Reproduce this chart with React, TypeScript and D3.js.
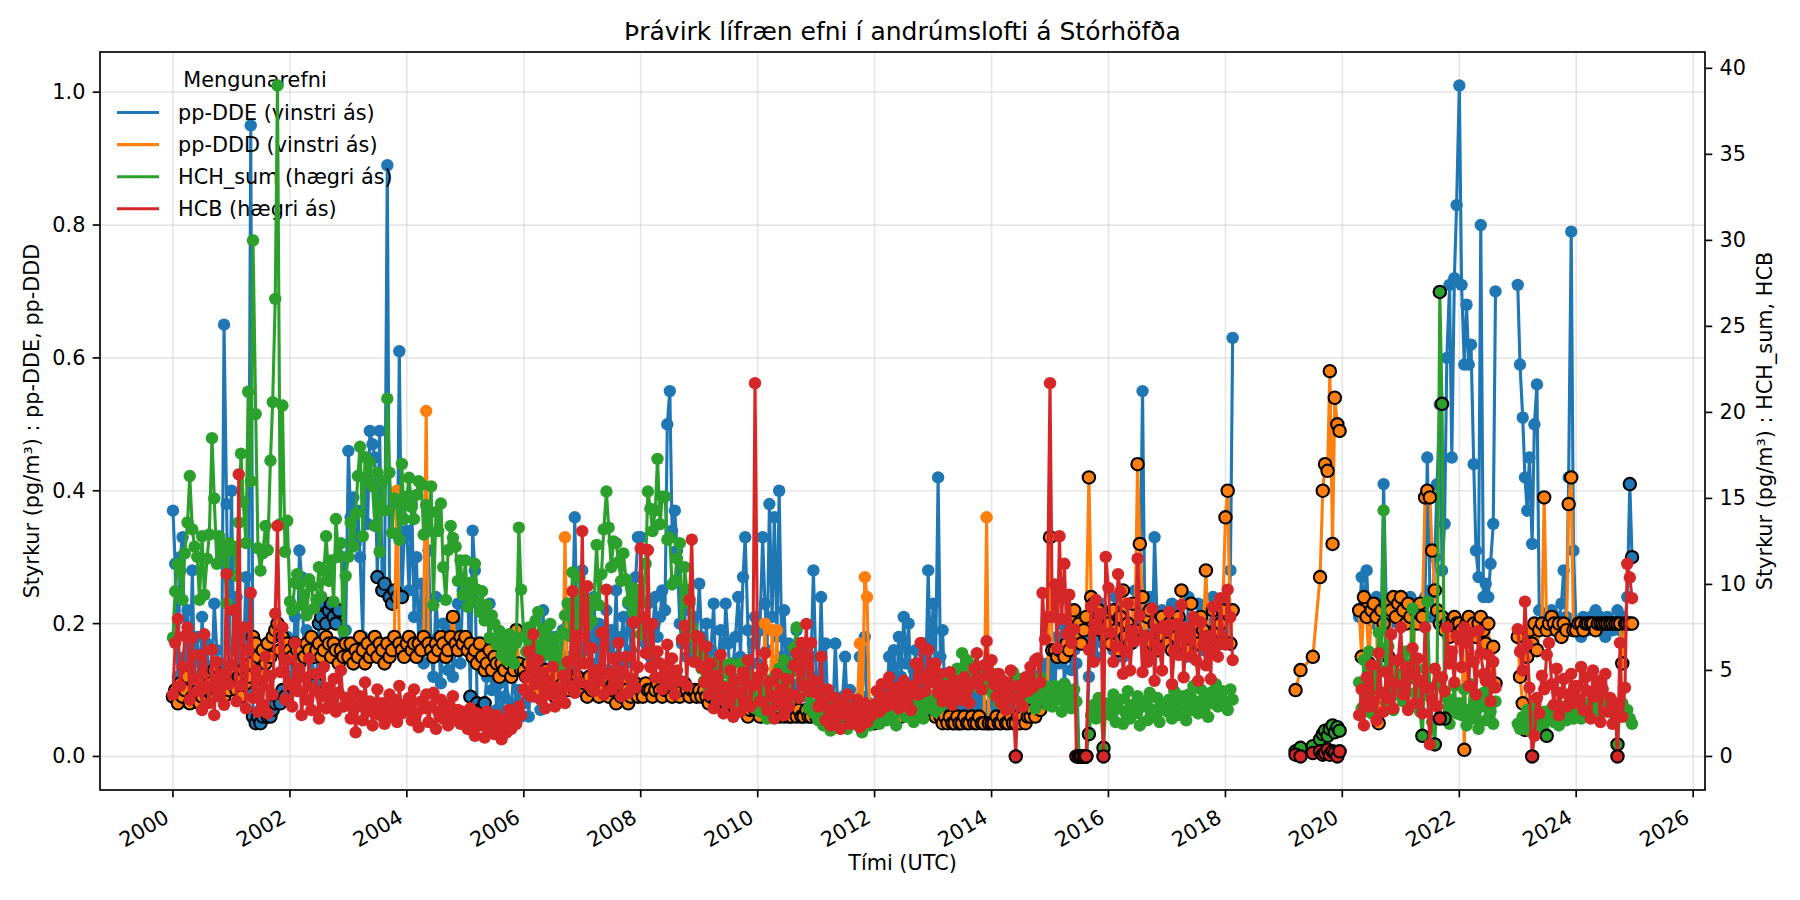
import React from "react";
import * as d3 from "d3";

// two samples a month: slot 0 = 1 Jan, slot 1 = 15 Jan, slot 2 = 1 Feb, ... slot 23 = 15 Dec
const years = d3.range(2000, 2025);
const _ = null;

// pp-DDE, left axis (pg/m3)
const ddeRows = [
  [0.37, 0.29, 0.12, 0.30, 0.33, 0.15, 0.22, 0.10, 0.28, 0.12, 0.18, 0.09, 0.21, 0.14, 0.17, 0.11, 0.13, 0.23, 0.16, 0.10, 0.14, 0.65, 0.38, 0.12],
  [0.40, 0.16, 0.24, 0.11, 0.19, 0.13, 0.27, 0.10, 0.95, 0.06, 0.05, 0.06, 0.05, 0.06, 0.07, 0.06, 0.06, 0.07, 0.08, 0.09, 0.08, 0.10, 0.09, 0.18],
  [0.17, 0.12, 0.21, 0.14, 0.31, 0.27, 0.15, 0.19, 0.11, 0.16, 0.12, 0.11, 0.20, 0.21, 0.23, 0.20, 0.22, 0.23, 0.21, 0.20, 0.22, 0.16, 0.30, 0.19],
  [0.46, 0.36, 0.39, 0.32, 0.37, 0.30, 0.18, 0.42, 0.35, 0.49, 0.47, 0.45, 0.27, 0.49, 0.25, 0.26, 0.89, 0.24, 0.23, 0.25, 0.24, 0.61, 0.24, 0.33],
  [0.34, 0.25, 0.38, 0.21, 0.30, 0.17, 0.26, 0.14, 0.22, 0.31, 0.16, 0.12, 0.24, 0.18, 0.11, 0.20, 0.15, 0.13, 0.19, 0.12, 0.17, 0.23, 0.14, 0.25],
  [0.23, 0.26, 0.09, 0.34, 0.28, 0.08, 0.07, 0.07, 0.08, 0.12, 0.23, 0.10, 0.14, 0.07, 0.11, 0.06, 0.09, 0.12, 0.05, 0.08, 0.13, 0.07, 0.10, 0.06],
  [0.08, 0.12, 0.06, 0.14, 0.09, 0.11, 0.15, 0.07, 0.22, 0.13, 0.10, 0.16, 0.12, 0.18, 0.09, 0.14, 0.19, 0.11, 0.15, 0.13, 0.21, 0.36, 0.17, 0.12],
  [0.28, 0.16, 0.21, 0.12, 0.18, 0.24, 0.14, 0.20, 0.11, 0.17, 0.22, 0.13, 0.19, 0.15, 0.25, 0.12, 0.18, 0.21, 0.14, 0.23, 0.16, 0.20, 0.27, 0.33],
  [0.33, 0.20, 0.17, 0.23, 0.15, 0.19, 0.24, 0.18, 0.21, 0.25, 0.22, 0.50, 0.55, 0.34, 0.37, 0.31, 0.20, 0.17, 0.22, 0.15, 0.19, 0.16, 0.21, 0.18],
  [0.26, 0.18, 0.14, 0.20, 0.12, 0.16, 0.23, 0.11, 0.15, 0.19, 0.13, 0.23, 0.17, 0.10, 0.14, 0.18, 0.24, 0.15, 0.27, 0.33, 0.19, 0.12, 0.17, 0.21],
  [0.14, 0.19, 0.33, 0.23, 0.16, 0.38, 0.21, 0.36, 0.18, 0.40, 0.15, 0.22, 0.12, 0.17, 0.10, 0.14, 0.19, 0.11, 0.13, 0.16, 0.09, 0.12, 0.15, 0.28],
  [0.12, 0.08, 0.24, 0.10, 0.17, 0.07, 0.09, 0.06, 0.17, 0.08, 0.06, 0.09, 0.15, 0.07, 0.10, 0.06, 0.08, 0.07, 0.15, 0.09, 0.18, 0.06, 0.08, 0.05],
  [0.05, 0.07, 0.09, 0.06, 0.10, 0.08, 0.15, 0.11, 0.16, 0.09, 0.18, 0.12, 0.21, 0.14, 0.20, 0.10, 0.13, 0.16, 0.09, 0.12, 0.17, 0.11, 0.28, 0.14],
  [0.23, 0.12, 0.42, 0.15, 0.19, 0.09, 0.11, 0.07, 0.10, 0.08, 0.05, 0.05, 0.07, 0.09, 0.06, 0.08, 0.10, 0.07, 0.09, 0.06, 0.08, 0.07, 0.05, 0.05],
  [0.06, 0.08, 0.07, 0.09, 0.06, 0.10, 0.08, 0.07, 0.09, 0.11, 0.07, 0.08, 0.10, 0.06, 0.09, 0.08, 0.11, 0.07, 0.10, 0.12, 0.09, 0.13, 0.11, 0.14],
  [0.12, 0.16, 0.10, 0.18, 0.14, 0.20, 0.11, 0.15, 0.17, 0.13, 0.16, 0.14, 0.00, 0.00, 0.00, 0.00, 0.12, 0.18, 0.21, 0.15, 0.19, 0.23, 0.17, 0.20],
  [0.18, 0.22, 0.16, 0.24, 0.19, 0.21, 0.15, 0.23, 0.18, 0.20, 0.17, 0.25, 0.19, 0.22, 0.55, 0.21, 0.18, 0.24, 0.16, 0.33, 0.20, 0.17, 0.22, 0.19],
  [0.21, 0.17, 0.23, 0.19, 0.16, 0.22, 0.18, 0.20, 0.15, 0.24, 0.19, 0.21, 0.17, 0.23, 0.18, 0.16, 0.22, 0.20, 0.19, 0.24, 0.17, 0.21, 0.23, 0.18],
  [0.22, 0.17, 0.28, 0.63],
  [],
  [_, _, _, _, _, _, _, 0.21, 0.27, 0.22, 0.28, 0.21, 0.23, 0.20, 0.24, 0.22, 0.21, 0.41, 0.23, 0.20, 0.22, 0.21, 0.23, 0.20],
  [0.22, 0.20, 0.23, 0.21, 0.24, 0.20, 0.22, 0.21, 0.23, 0.22, 0.24, 0.45, 0.25, 0.21, 0.30, 0.41, 0.53, 0.28, 0.35, 0.60, 0.71, 0.45, 0.72, 0.83],
  [1.01, 0.71, 0.59, 0.68, 0.59, 0.62, 0.44, 0.31, 0.27, 0.80, 0.24, 0.26, 0.24, 0.29, 0.35, 0.70],
  [0.71, 0.59, 0.51, 0.42, 0.37, 0.45, 0.32, 0.50, 0.56, 0.22, 0.20, 0.19, 0.21, 0.20, 0.22, 0.19, 0.21, 0.20, 0.23, 0.28, 0.21, 0.42, 0.79, 0.31],
  [0.19, 0.20, 0.18, 0.21, 0.20, 0.19, 0.21, 0.20, 0.22, 0.19, 0.21, 0.20, 0.18, 0.21, 0.20, 0.19, 0.20, 0.22, 0.19, 0.21, 0.20, 0.24, 0.41, 0.30],
];

// pp-DDD, left axis (pg/m3)
const dddRows = [
  [0.09, 0.10, 0.08, 0.11, 0.09, 0.10, 0.12, 0.08, 0.09, 0.11, 0.10, 0.08, 0.09, 0.12, 0.10, 0.11, 0.09, 0.13, 0.10, 0.12, 0.11, 0.09, 0.12, 0.10],
  [0.11, 0.13, 0.10, 0.12, 0.09, 0.13, 0.11, 0.12, 0.14, 0.18, 0.17, 0.15, 0.13, 0.16, 0.14, 0.17, 0.15, 0.18, 0.19, 0.20, 0.16, 0.18, 0.15, 0.17],
  [0.16, 0.15, 0.17, 0.16, 0.14, 0.16, 0.15, 0.17, 0.16, 0.18, 0.15, 0.16, 0.17, 0.15, 0.16, 0.18, 0.17, 0.15, 0.17, 0.16, 0.14, 0.16, 0.15, 0.17],
  [0.15, 0.17, 0.14, 0.16, 0.15, 0.18, 0.16, 0.14, 0.17, 0.15, 0.16, 0.18, 0.15, 0.17, 0.16, 0.14, 0.17, 0.15, 0.16, 0.18, 0.40, 0.17, 0.16, 0.15],
  [0.17, 0.18, 0.16, 0.17, 0.15, 0.17, 0.16, 0.18, 0.52, 0.17, 0.16, 0.15, 0.17, 0.16, 0.18, 0.17, 0.15, 0.16, 0.18, 0.21, 0.17, 0.16, 0.18, 0.17],
  [0.18, 0.16, 0.17, 0.15, 0.16, 0.14, 0.17, 0.15, 0.13, 0.14, 0.16, 0.13, 0.15, 0.14, 0.12, 0.14, 0.13, 0.15, 0.14, 0.12, 0.13, 0.19, 0.14, 0.13],
  [0.13, 0.12, 0.14, 0.11, 0.13, 0.12, 0.10, 0.12, 0.11, 0.13, 0.10, 0.12, 0.11, 0.09, 0.12, 0.10, 0.11, 0.33, 0.10, 0.12, 0.11, 0.10, 0.12, 0.11],
  [0.10, 0.11, 0.09, 0.12, 0.10, 0.11, 0.10, 0.09, 0.11, 0.10, 0.12, 0.09, 0.10, 0.11, 0.08, 0.10, 0.09, 0.11, 0.10, 0.08, 0.09, 0.10, 0.11, 0.09],
  [0.10, 0.09, 0.11, 0.10, 0.10, 0.09, 0.10, 0.11, 0.10, 0.09, 0.10, 0.10, 0.11, 0.09, 0.10, 0.10, 0.09, 0.10, 0.11, 0.10, 0.09, 0.10, 0.10, 0.09],
  [0.10, 0.09, 0.10, 0.09, 0.08, 0.09, 0.10, 0.08, 0.09, 0.08, 0.09, 0.08, 0.07, 0.08, 0.09, 0.07, 0.08, 0.07, 0.08, 0.07, 0.06, 0.07, 0.08, 0.07],
  [0.07, 0.06, 0.07, 0.20, 0.07, 0.06, 0.19, 0.07, 0.19, 0.06, 0.07, 0.06, 0.07, 0.06, 0.06, 0.07, 0.06, 0.07, 0.06, 0.06, 0.07, 0.06, 0.06, 0.07],
  [0.06, 0.07, 0.06, 0.06, 0.07, 0.06, 0.06, 0.07, 0.06, 0.06, 0.07, 0.06, 0.06, 0.06, 0.07, 0.06, 0.06, 0.07, 0.17, 0.06, 0.27, 0.24, 0.07, 0.06],
  [0.06, 0.07, 0.06, 0.07, 0.08, 0.07, 0.06, 0.07, 0.08, 0.07, 0.07, 0.06, 0.07, 0.08, 0.07, 0.07, 0.06, 0.07, 0.08, 0.07, 0.07, 0.08, 0.07, 0.07],
  [0.07, 0.06, 0.07, 0.06, 0.05, 0.06, 0.05, 0.06, 0.05, 0.05, 0.06, 0.05, 0.05, 0.06, 0.05, 0.05, 0.06, 0.05, 0.05, 0.06, 0.05, 0.05, 0.36, 0.05],
  [0.05, 0.05, 0.06, 0.05, 0.05, 0.06, 0.05, 0.05, 0.06, 0.05, 0.05, 0.06, 0.05, 0.06, 0.05, 0.06, 0.06, 0.07, 0.06, 0.08, 0.07, 0.09, 0.10, 0.08],
  [0.33, 0.16, 0.16, 0.15, 0.16, 0.16, 0.15, 0.17, 0.16, 0.19, 0.22, 0.18, 0.20, 0.17, 0.19, 0.21, 0.42, 0.24, 0.23, 0.20, 0.22, 0.19, 0.21, 0.18],
  [0.20, 0.17, 0.22, 0.19, 0.16, 0.21, 0.25, 0.18, 0.20, 0.17, 0.23, 0.19, 0.44, 0.32, 0.24, 0.18, 0.21, 0.22, 0.17, 0.20, 0.16, 0.19, 0.21, 0.18],
  [0.17, 0.20, 0.16, 0.19, 0.18, 0.21, 0.25, 0.17, 0.19, 0.16, 0.23, 0.18, 0.20, 0.17, 0.21, 0.19, 0.28, 0.18, 0.16, 0.22, 0.19, 0.17, 0.20, 0.22],
  [0.36, 0.40, 0.17, 0.22],
  [_, _, _, _, _, 0.10, _, 0.13, _, _, _, _, 0.15, _, _, 0.27, 0.40, 0.44, 0.43, 0.58, 0.32, 0.54, 0.50, 0.49],
  [_, _, _, _, _, _, _, 0.22, 0.15, 0.24, 0.21, 0.14, 0.22, 0.23, 0.21, 0.05, 0.22, 0.20, 0.23, 0.15, 0.22, 0.24, 0.21, 0.23],
  [0.24, 0.22, 0.20, 0.23, 0.21, 0.12, 0.22, 0.20, 0.23, 0.21, 0.39, 0.40, 0.39, 0.31, 0.25, 0.22, 0.20, 0.21, 0.19, 0.20, 0.18, 0.20, 0.21, 0.20],
  [0.20, 0.19, 0.01, 0.20, 0.21, 0.19, 0.20, 0.18, 0.20, 0.21, 0.19, 0.17, 0.20, 0.105, 0.165, 0.11],
  [0.18, 0.12, 0.08, 0.04, 0.15, 0.19, 0.17, 0.20, 0.16, 0.19, 0.20, 0.39, 0.19, 0.20, 0.21, 0.20, 0.19, 0.20, 0.18, 0.20, 0.19, 0.38, 0.42, 0.19],
  [0.19, 0.20, 0.20, 0.19, 0.20, 0.20, 0.20, 0.20, 0.19, 0.20, 0.20, 0.20, 0.20, 0.20, 0.20, 0.20, 0.20, 0.20, 0.20, 0.14, 0.20, 0.20, 0.20, 0.20],
];

// HCH_sum, right axis (pg/m3)
const hchRows = [
  [6.9, 9.6, 11.2, 10.8, 9.1, 11.8, 13.6, 16.3, 13.2, 12.2, 11.6, 9.1, 12.8, 9.4, 11.5, 12.9, 18.5, 15.0, 11.2, 12.8, 11.8, 12.2, 8.9, 12.4],
  [12.0, 12.2, 10.5, 13.6, 17.6, 14.8, 12.4, 21.2, 16.0, 30.0, 19.9, 12.1, 10.8, 11.8, 13.4, 12.0, 17.2, 20.6, 26.6, 39.0, 13.5, 20.4, 11.9, 13.7],
  [9.0, 8.5, 10.1, 10.6, 10.0, 8.8, 9.4, 8.2, 10.3, 9.9, 8.6, 9.1, 11.0, 9.3, 10.8, 12.8, 10.2, 11.4, 9.0, 13.8, 11.6, 12.4, 7.3, 10.5],
  [11.6, 13.6, 12.2, 14.1, 16.3, 18.0, 12.8, 17.4, 16.1, 17.1, 15.7, 13.4, 16.5, 11.9, 16.0, 14.3, 20.8, 16.5, 13.0, 15.0, 14.7, 12.6, 17.0, 13.8],
  [15.1, 16.2, 14.5, 13.8, 15.2, 16.0, 15.8, 12.9, 14.6, 13.1, 15.7, 8.8, 14.2, 13.1, 14.7, 11.0, 9.1, 12.0, 13.4, 12.7, 12.2, 10.2, 11.4, 9.4],
  [11.4, 8.7, 10.1, 9.0, 11.2, 9.7, 8.4, 9.6, 7.9, 8.8, 6.9, 8.2, 7.7, 6.5, 7.3, 5.9, 6.8, 5.6, 7.1, 6.2, 5.4, 6.6, 13.3, 9.7],
  [7.0, 6.1, 7.5, 5.8, 6.6, 7.9, 8.4, 6.3, 7.4, 5.9, 6.8, 7.7, 6.2, 5.7, 6.9, 5.2, 7.2, 8.2, 8.9, 7.0, 10.7, 9.5, 5.7, 10.4],
  [8.1, 9.3, 7.6, 8.7, 7.9, 9.1, 12.3, 8.8, 10.6, 13.2, 15.4, 13.3, 11.0, 12.5, 12.4, 11.3, 10.2, 11.8, 10.3, 9.0, 9.8, 8.4, 9.7, 8.9],
  [7.1, 9.0, 11.2, 15.4, 14.4, 13.1, 14.3, 17.3, 13.5, 15.1, 15.1, 12.6, 12.7, 10.0, 10.2, 11.5, 12.4, 6.8, 11.0, 9.7, 8.9, 7.5, 6.9, 6.2],
  [6.0, 5.1, 4.4, 5.6, 3.8, 4.9, 5.4, 3.5, 4.6, 5.4, 4.1, 3.2, 4.8, 5.4, 3.9, 4.5, 3.1, 5.4, 4.2, 3.6, 4.7, 3.3, 4.0, 2.8],
  [3.4, 2.6, 4.1, 3.0, 2.2, 3.7, 4.5, 2.9, 3.3, 5.1, 3.8, 5.6, 4.2, 3.1, 4.9, 6.3, 7.5, 5.0, 4.4, 5.4, 3.6, 2.8, 3.9, 2.5],
  [2.9, 2.1, 3.3, 1.8, 2.6, 2.2, 1.5, 2.8, 3.1, 2.0, 1.7, 2.4, 2.9, 1.6, 2.3, 2.7, 1.9, 3.2, 2.5, 1.4, 2.1, 2.8, 1.8, 2.4],
  [2.2, 3.0, 1.9, 2.6, 3.4, 2.1, 2.8, 3.6, 2.4, 1.8, 3.1, 2.7, 3.9, 2.3, 3.3, 2.9, 2.0, 3.5, 2.6, 3.0, 2.2, 3.7, 2.8, 3.3],
  [3.1, 2.6, 3.8, 2.9, 3.5, 4.2, 3.3, 4.6, 3.9, 4.4, 5.1, 4.0, 6.0, 4.8, 5.6, 4.5, 5.3, 4.1, 4.7, 5.0, 5.2, 4.3, 3.9, 4.6],
  [4.2, 3.6, 4.8, 3.1, 4.4, 3.9, 2.7, 4.1, 3.5, 4.9, 3.2, 3.8, 4.5, 2.9, 3.7, 4.3, 3.4, 4.0, 2.8, 3.6, 4.6, 3.3, 4.1, 3.0],
  [3.5, 2.9, 4.1, 3.3, 3.8, 2.6, 4.2, 3.1, 3.6, 2.8, 3.9, 3.2, 0.0, 0.0, 0.0, 0.0, 1.3, 2.4, 3.0, 2.2, 3.4, 2.7, 0.5, 2.9],
  [3.1, 2.4, 3.6, 2.0, 2.8, 3.3, 1.9, 2.6, 3.8, 2.2, 3.0, 2.5, 3.5, 1.8, 2.9, 3.2, 2.1, 3.7, 2.7, 2.3, 3.4, 2.0, 2.8, 3.1],
  [2.6, 3.3, 2.2, 3.8, 2.9, 2.4, 3.5, 3.0, 2.1, 3.6, 2.7, 4.1, 3.2, 2.5, 3.9, 2.8, 3.4, 2.3, 3.7, 3.1, 4.2, 2.9, 3.5, 3.8],
  [3.2, 2.7, 3.9, 3.3],
  [_, _, _, _, _, 0.3, _, 0.5, _, _, _, _, 0.6, _, _, 1.0, 1.3, 1.5, 1.2, 1.6, 1.8, 1.4, 1.7, 1.5],
  [_, _, _, _, _, _, _, 4.3, 2.8, 5.6, 3.4, 6.1, 2.5, 4.7, 3.9, 7.2, 5.0, 14.3, 3.1, 6.4, 4.0, 2.7, 5.5, 3.6],
  [4.8, 3.2, 6.1, 2.9, 5.4, 8.6, 3.7, 4.4, 2.6, 1.2, 5.1, 9.0, 3.5, 2.0, 0.7, 4.2, 27.0, 20.5, 2.2, 3.4, 1.9, 2.8, 4.1, 2.5],
  [3.1, 2.4, 3.9, 1.8, 2.7, 4.2, 2.2, 3.4, 1.6, 2.9, 3.7, 2.1, 4.5, 2.6, 1.9, 3.2],
  [1.9, 1.6, 2.3, 1.8, 2.7, 1.5, 2.1, 2.9, 1.7, 2.4, 1.9, 2.6, 1.2, 2.2, 2.8, 2.0, 2.5, 1.8, 2.3, 2.9, 2.1, 2.6, 2.4, 2.2],
  [2.4, 2.8, 2.2, 3.1, 2.6, 2.9, 2.3, 3.3, 2.7, 3.0, 2.5, 3.4, 2.8, 3.2, 2.6, 3.0, 2.4, 0.7, 2.9, 3.1, 2.5, 2.7, 2.2, 1.9],
];

// HCB, right axis (pg/m3)
const hcbRows = [
  [3.6, 6.6, 8.0, 4.1, 5.2, 7.0, 7.5, 3.3, 6.9, 4.5, 3.8, 5.9, 2.7, 7.1, 4.0, 3.1, 6.2, 2.4, 5.5, 3.5, 4.8, 3.0, 10.6, 4.2],
  [5.3, 8.5, 3.2, 16.4, 4.1, 7.5, 2.8, 6.2, 9.5, 3.4, 5.0, 2.6, 4.4, 3.0, 5.8, 2.5, 4.7, 3.6, 8.3, 13.4, 4.9, 7.5, 3.3, 5.6],
  [4.2, 2.9, 6.6, 3.8, 5.1, 2.4, 4.6, 3.3, 5.7, 2.7, 3.9, 4.8, 2.2, 3.5, 5.2, 2.8, 4.0, 3.1, 4.5, 2.6, 3.7, 5.0, 2.9, 3.4],
  [3.0, 2.2, 3.8, 1.4, 2.9, 3.5, 2.1, 4.3, 2.6, 3.2, 1.8, 2.7, 3.9, 2.4, 3.1, 1.9, 2.8, 3.6, 2.3, 3.3, 2.0, 4.1, 2.5, 3.0],
  [2.7, 3.4, 2.1, 3.9, 2.5, 1.7, 3.2, 2.8, 3.6, 2.0, 2.9, 3.7, 1.6, 2.6, 3.3, 2.2, 3.0, 1.8, 2.4, 3.5, 2.1, 2.7, 1.9, 2.6],
  [2.3, 1.6, 2.8, 1.9, 1.2, 2.5, 1.8, 2.2, 1.1, 2.6, 1.5, 2.0, 1.3, 2.4, 1.7, 1.0, 2.1, 1.4, 2.7, 1.6, 2.3, 1.9, 2.9, 2.4],
  [3.9, 4.6, 6.1, 3.5, 7.1, 4.2, 5.6, 3.3, 4.9, 2.8, 4.4, 3.6, 5.2, 2.9, 4.0, 3.4, 4.7, 3.1, 5.5, 4.1, 9.6, 3.7, 7.0, 4.3],
  [13.1, 5.4, 9.9, 4.1, 6.3, 3.8, 5.0, 4.4, 7.2, 3.6, 9.7, 4.8, 3.9, 5.7, 4.2, 6.6, 3.5, 4.9, 5.8, 3.7, 4.5, 7.8, 4.0, 5.2],
  [12.1, 8.1, 6.0, 12.0, 5.2, 7.7, 4.6, 6.1, 5.4, 3.9, 4.8, 6.5, 4.2, 5.7, 3.6, 5.0, 4.4, 6.8, 7.6, 4.1, 9.1, 12.6, 5.5, 7.0],
  [6.9, 5.2, 4.3, 6.4, 3.6, 5.4, 2.8, 4.7, 3.3, 5.9, 2.5, 4.0, 3.1, 5.0, 2.3, 4.4, 3.7, 2.6, 4.9, 3.2, 5.6, 2.9, 4.1, 21.7],
  [4.6, 3.2, 5.1, 6.0, 2.7, 4.3, 3.5, 2.2, 4.8, 3.0, 3.9, 2.4, 4.5, 2.9, 3.6, 5.3, 6.0, 3.4, 6.6, 4.1, 7.7, 3.8, 6.6, 4.4],
  [3.7, 2.9, 5.8, 3.2, 2.1, 3.9, 1.8, 2.7, 3.4, 2.3, 1.6, 3.0, 2.5, 3.6, 1.9, 2.8, 2.2, 3.3, 1.7, 2.6, 3.1, 2.0, 2.9, 2.4],
  [3.0, 3.8, 2.6, 4.2, 3.4, 2.9, 4.6, 3.7, 3.1, 4.0, 2.8, 3.5, 4.4, 3.2, 3.9, 2.7, 4.1, 5.4, 3.6, 6.6, 4.5, 3.8, 6.2, 4.9],
  [4.3, 5.4, 3.7, 4.8, 3.2, 4.1, 3.6, 4.9, 3.0, 4.4, 3.5, 4.0, 3.3, 4.6, 3.8, 3.1, 4.2, 5.1, 6.0, 4.5, 3.9, 5.3, 6.7, 4.7],
  [5.6, 4.2, 3.5, 4.8, 3.1, 4.4, 2.7, 3.9, 5.0, 3.3, 0.0, 4.1, 3.6, 2.9, 4.6, 3.8, 5.2, 4.0, 5.6, 5.7, 4.3, 9.5, 6.8, 8.1],
  [21.7, 8.1, 10.0, 6.3, 12.8, 8.0, 11.2, 7.1, 9.4, 6.6, 7.4, 0.0, 0.0, 0.0, 0.0, 0.0, 6.2, 8.7, 5.5, 9.1, 7.4, 8.3, 0.0, 11.6],
  [9.8, 7.2, 5.5, 6.4, 10.6, 9.6, 4.8, 6.1, 8.9, 5.0, 7.3, 6.7, 11.5, 8.2, 4.9, 7.0, 5.5, 5.8, 8.6, 4.4, 7.4, 6.3, 5.0, 7.6],
  [7.3, 8.4, 4.2, 6.1, 7.7, 5.9, 8.8, 4.6, 6.9, 7.5, 5.8, 8.1, 5.6, 4.4, 7.8, 6.5, 5.3, 7.0, 4.5, 8.7, 6.4, 5.8, 9.2, 6.9],
  [6.5, 9.7, 8.1, 5.6],
  [_, _, _, _, _, 0.1, _, 0.0, _, _, _, _, 0.2, _, _, 0.3, 0.1, 0.2, 0.4, 0.1, 0.3, 0.2, 0.0, 0.3],
  [_, _, _, _, _, _, _, 2.4, 3.9, 1.8, 4.6, 2.9, 5.3, 3.2, 2.1, 6.0, 3.7, 2.6, 4.9, 3.4, 7.1, 2.8, 4.2, 5.6],
  [7.5, 3.6, 5.2, 2.7, 4.8, 6.3, 3.1, 5.7, 4.4, 2.5, 7.5, 4.0, 0.7, 3.3, 5.1, 2.9, 2.2, 4.6, 3.8, 7.5, 5.4, 6.1, 4.3, 7.0],
  [6.8, 5.2, 7.5, 6.6, 4.1, 7.2, 5.5, 3.6, 7.3, 6.0, 4.8, 4.4, 5.9, 3.2, 5.5, 4.0],
  [7.4, 6.1, 5.0, 9.0, 6.5, 4.0, 0.0, 1.2, 3.4, 2.5, 4.7, 3.9, 5.9, 6.6, 4.2, 3.0, 5.1, 2.4, 3.7, 4.5, 2.9, 3.6, 4.8, 3.1],
  [4.1, 3.3, 5.2, 2.7, 4.6, 3.8, 2.2, 5.0, 3.5, 4.4, 2.0, 3.9, 4.8, 2.6, 3.4, 1.9, 3.1, 0.0, 6.6, 2.3, 4.0, 11.2, 10.4, 9.2],
];

// samples flagged in the source (black edge): [fromYear, fromSlot, toYear, toSlot]
const ddeFlags = [
  [2001, 9, 2001, 22], [2002, 10, 2002, 20], [2003, 12, 2003, 12], [2003, 14, 2003, 15],
  [2003, 17, 2003, 20], [2003, 22, 2003, 22], [2005, 2, 2005, 2], [2005, 5, 2005, 8],
  [2011, 23, 2012, 0], [2013, 10, 2013, 11], [2013, 22, 2013, 23], [2015, 12, 2015, 15],
  [2024, 22, 2024, 23],
];
const dddFlags = [
  [2000, 0, 2003, 19], [2003, 21, 2004, 7], [2004, 9, 2006, 16], [2006, 18, 2010, 2],
  [2010, 4, 2010, 5], [2010, 7, 2010, 7], [2010, 9, 2011, 17], [2011, 19, 2011, 19],
  [2011, 22, 2013, 21], [2013, 23, 2024, 23],
];
const hchFlags = [
  [2015, 12, 2015, 16], [2015, 22, 2015, 22], [2019, 0, 2019, 23], [2021, 9, 2021, 9],
  [2021, 14, 2021, 14], [2021, 16, 2021, 18], [2023, 12, 2023, 12], [2024, 17, 2024, 17],
];
const hcbFlags = [
  [2014, 10, 2014, 10], [2015, 11, 2015, 15], [2015, 22, 2015, 22], [2019, 0, 2019, 23],
  [2021, 16, 2021, 16], [2023, 6, 2023, 6], [2024, 17, 2024, 17],
];

const seriesNames = ["pp-DDE (vinstri ás)", "pp-DDD (vinstri ás)", "HCH_sum (hægri ás)", "HCB (hægri ás)"];
const colors = ["#1f77b4", "#ff7f0e", "#2ca02c", "#d62728"];
const leftTicks = [0, 0.2, 0.4, 0.6, 0.8, 1.0];
const rightTicks = [0, 5, 10, 15, 20, 25, 30, 35, 40];

const FONT = "DejaVu Sans, Verdana, sans-serif";

type Pt = { date: Date; v: number; flagged: boolean };

function isFlagged(year: number, slot: number, flags: number[][]) {
  const k = year * 24 + slot;
  return flags.some(([y0, s0, y1, s1]) => k >= y0 * 24 + s0 && k <= y1 * 24 + s1);
}

function buildSeries(rows: (number | null)[][], flags: number[][]): Pt[] {
  const pts: Pt[] = [];
  rows.forEach((row, i) => {
    const year = years[i];
    row.forEach((v, slot) => {
      if (v == null) return;
      pts.push({
        date: new Date(Date.UTC(year, Math.floor(slot / 2), slot % 2 ? 15 : 1)),
        v,
        flagged: isFlagged(year, slot, flags),
      });
    });
  });
  return pts;
}

// break the line where there is a long stretch without samples
function segments(pts: Pt[]) {
  const out: Pt[][] = [];
  let cur: Pt[] = [];
  pts.forEach((p, i) => {
    if (i > 0 && +p.date - +pts[i - 1].date > 90 * 864e5) {
      out.push(cur);
      cur = [];
    }
    cur.push(p);
  });
  if (cur.length) out.push(cur);
  return out;
}

function padded(vals: number[]) {
  const [lo, hi] = d3.extent(vals) as [number, number];
  const p = (hi - lo) * 0.05;
  return [lo - p, hi + p];
}

export default function App() {
  const W = 1800, H = 900;
  const m = { left: 100, right: 1705, top: 52, bottom: 790 };

  const dde = buildSeries(ddeRows, ddeFlags);
  const ddd = buildSeries(dddRows, dddFlags);
  const hch = buildSeries(hchRows, hchFlags);
  const hcb = buildSeries(hcbRows, hcbFlags);
  const all = [dde, ddd, hch, hcb];

  const [t0, t1] = d3.extent(all.flat(), (d) => +d.date) as [number, number];
  const tp = (t1 - t0) * 0.05;
  const x = d3.scaleUtc().domain([new Date(t0 - tp), new Date(t1 + tp)]).range([m.left, m.right]);
  const yL = d3.scaleLinear().domain(padded([...dde, ...ddd].map((d) => d.v))).range([m.bottom, m.top]);
  const yR = d3.scaleLinear().domain(padded([...hch, ...hcb].map((d) => d.v))).range([m.bottom, m.top]);
  const xTicks = x.ticks(d3.utcYear.every(2) as any);

  const R = 6.2;
  const drawSeries = (pts: Pt[], y: d3.ScaleLinear<number, number>, color: string) => {
    const line = d3.line<Pt>().x((d) => x(d.date)).y((d) => y(d.v));
    return (
      <g>
        {segments(pts).map((s, i) => (
          <path key={i} d={line(s) || ""} fill="none" stroke={color} strokeWidth={3.1} strokeLinejoin="round" />
        ))}
        {pts.map((p, i) => (
          <circle key={"c" + i} cx={x(p.date)} cy={y(p.v)} r={R} fill={color} />
        ))}
        {pts.filter((p) => p.flagged).map((p, i) => (
          <circle key={"f" + i} cx={x(p.date)} cy={y(p.v)} r={R} fill={color} stroke="#000" strokeWidth={2.1} />
        ))}
      </g>
    );
  };

  const fs = 20.8;
  const midY = (m.top + m.bottom) / 2;

  return (
    <svg width={W} height={H} style={{ position: "absolute", left: 0, top: 0, background: "#fff" }} fontFamily={FONT}>
      <rect width={W} height={H} fill="#fff" />
      {/* grid */}
      <g stroke="#b0b0b0" strokeOpacity={0.3} strokeWidth={1.67}>
        {xTicks.map((t, i) => (
          <line key={"gx" + i} x1={x(t)} x2={x(t)} y1={m.top} y2={m.bottom} />
        ))}
        {leftTicks.map((t, i) => (
          <line key={"gy" + i} x1={m.left} x2={m.right} y1={yL(t)} y2={yL(t)} />
        ))}
      </g>

      {/* left axis series */}
      {drawSeries(dde, yL, colors[0])}
      {drawSeries(ddd, yL, colors[1])}

      {/* legend */}
      <g fontSize={fs} fill="#000">
        <text x={255} y={80} textAnchor="middle" dominantBaseline="central">Mengunarefni</text>
        {seriesNames.map((name, i) => {
          const ly = 112.5 + i * 32.1;
          return (
            <g key={name}>
              <line x1={117} x2={159} y1={ly} y2={ly} stroke={colors[i]} strokeWidth={3.1} />
              <text x={178} y={ly} dominantBaseline="central">{name}</text>
            </g>
          );
        })}
      </g>

      {/* right axis series */}
      {drawSeries(hch, yR, colors[2])}
      {drawSeries(hcb, yR, colors[3])}

      {/* frame */}
      <rect x={m.left} y={m.top} width={m.right - m.left} height={m.bottom - m.top} fill="none" stroke="#000" strokeWidth={1.67} />

      {/* x axis */}
      <g fontSize={fs}>
        {xTicks.map((t, i) => (
          <g key={"xt" + i}>
            <line x1={x(t)} x2={x(t)} y1={m.bottom} y2={m.bottom + 7.3} stroke="#000" strokeWidth={1.67} />
            <text transform={`translate(${x(t)},${m.bottom + 14.6 + 21})rotate(-30)`} textAnchor="end" dy={-4.9}>
              {d3.utcFormat("%Y")(t)}
            </text>
          </g>
        ))}
        <text x={(m.left + m.right) / 2} y={863} textAnchor="middle" dominantBaseline="central">Tími (UTC)</text>
      </g>

      {/* left y axis */}
      <g fontSize={fs}>
        {leftTicks.map((t, i) => (
          <g key={"yl" + i}>
            <line x1={m.left - 7.3} x2={m.left} y1={yL(t)} y2={yL(t)} stroke="#000" strokeWidth={1.67} />
            <text x={m.left - 14.6} y={yL(t)} textAnchor="end" dominantBaseline="central">{d3.format(".1f")(t)}</text>
          </g>
        ))}
        <text transform={`translate(32,${midY})rotate(-90)`} textAnchor="middle" dominantBaseline="central">
          Styrkur (pg/m³) : pp-DDE, pp-DDD
        </text>
      </g>

      {/* right y axis */}
      <g fontSize={fs}>
        {rightTicks.map((t, i) => (
          <g key={"yr" + i}>
            <line x1={m.right} x2={m.right + 7.3} y1={yR(t)} y2={yR(t)} stroke="#000" strokeWidth={1.67} />
            <text x={m.right + 14.6} y={yR(t)} textAnchor="start" dominantBaseline="central">{t}</text>
          </g>
        ))}
        <text transform={`translate(1765,${midY})rotate(-90)`} textAnchor="middle" dominantBaseline="central">
          Styrkur (pg/m³) : HCH_sum, HCB
        </text>
      </g>

      {/* title */}
      <text x={(m.left + m.right) / 2} y={40} textAnchor="middle" fontSize={25}>
        Þrávirk lífræn efni í andrúmslofti á Stórhöfða
      </text>
    </svg>
  );
}
